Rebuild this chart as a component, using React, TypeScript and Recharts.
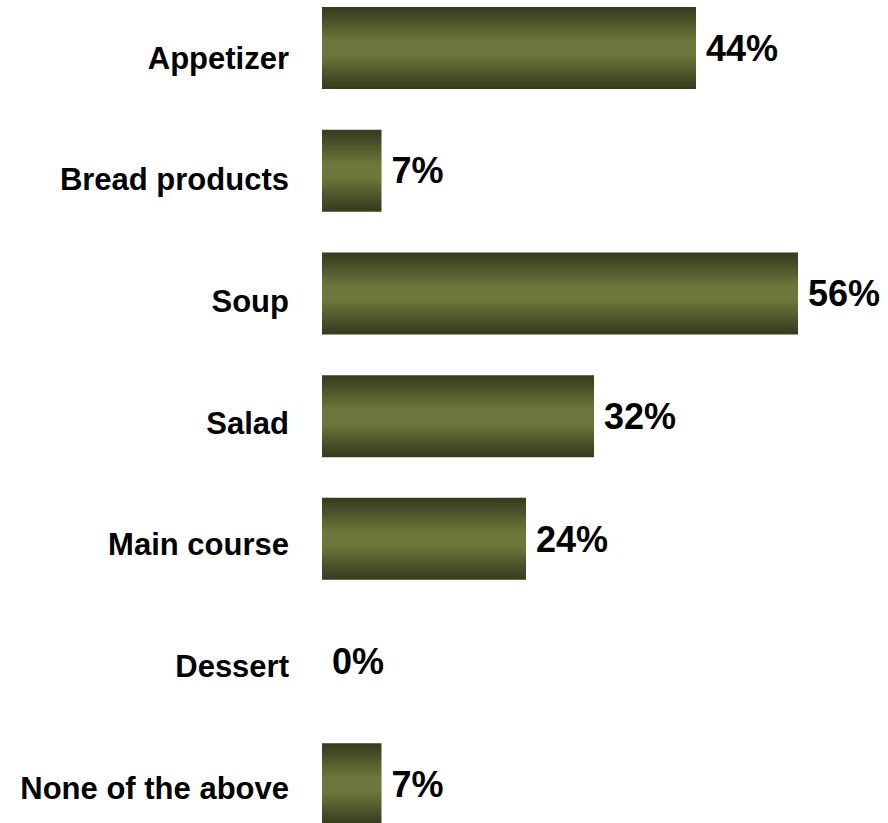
import React from 'react';
import { BarChart, Bar, XAxis, YAxis, LabelList } from 'recharts';

const categories = ['Appetizer', 'Bread products', 'Soup', 'Salad', 'Main course', 'Dessert', 'None of the above'];
const values = [44, 7, 56, 32, 24, 0, 7];

const data = categories.map((name, i) => ({ name, value: values[i] }));

const FONT = '"Liberation Sans", Arial, Helvetica, sans-serif';

const CategoryTick = (props: any) => {
  const { x, y, payload, index } = props;
  return (
    <text
      x={x - 33}
      y={y}
      dy={10 - (index || 0) * 1.1}
      textAnchor="end"
      dominantBaseline="central"
      fontFamily={FONT}
      fontWeight="bold"
      fontSize={31}
      fill="#000"
    >
      {payload.value}
    </text>
  );
};

export default function App() {
  return (
    <div style={{ position: 'absolute', left: 0, top: 0, width: 888, height: 823, overflow: 'hidden', background: '#fff' }}>
      <div style={{ marginTop: -13 }}>
        <BarChart
          width={888}
          height={859}
          data={data}
          layout="vertical"
          margin={{ top: 0, right: 56, bottom: 0, left: 0 }}
        >
          <defs>
            <linearGradient id="barGrad" x1="0" y1="0" x2="0" y2="1">
              <stop offset="0%" stopColor="#353b1d" />
              <stop offset="12%" stopColor="#444b25" />
              <stop offset="42%" stopColor="#6c783b" />
              <stop offset="58%" stopColor="#6c783b" />
              <stop offset="88%" stopColor="#444b25" />
              <stop offset="100%" stopColor="#353b1d" />
            </linearGradient>
          </defs>
          <XAxis type="number" domain={[0, 60]} hide />
          <YAxis
            type="category"
            dataKey="name"
            width={322}
            axisLine={false}
            tickLine={false}
            tickSize={0}
            tickMargin={0}
            interval={0}
            tick={<CategoryTick />}
          />
          <Bar dataKey="value" fill="url(#barGrad)" barSize={82} minPointSize={0.01} isAnimationActive={false}>
            <LabelList
              dataKey="value"
              position="right"
              offset={10}
              formatter={(v: any) => `${v}%`}
              style={{ fontFamily: FONT, fontWeight: 'bold', fontSize: 36, fill: '#000' }}
            />
          </Bar>
        </BarChart>
      </div>
    </div>
  );
}
